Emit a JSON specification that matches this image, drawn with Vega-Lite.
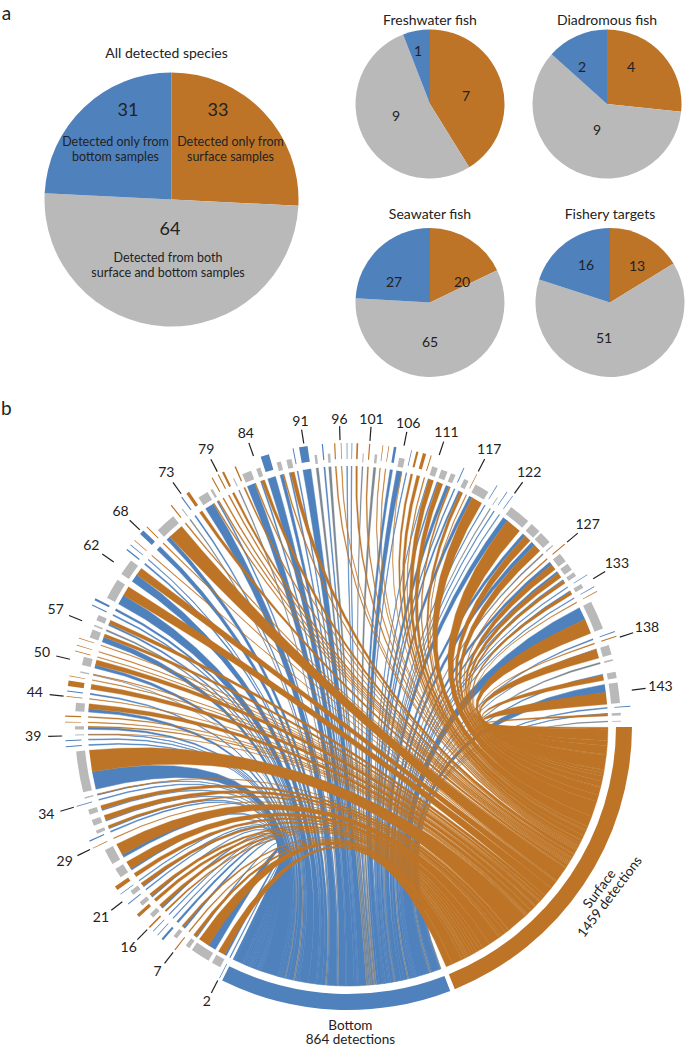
{"$schema":"https://vega.github.io/schema/vega-lite/v6.json","padding":0,"background":"white","config":{"view":{"stroke":null},"axis":{"disable":true},"font":"Lato","title":{"font":"Lato","fontSize":14,"fontWeight":"normal","color":"#222222"},"text":{"font":"Lato","color":"#222222","baseline":"middle","align":"center"}},
"datasets":{
"targets":[{"name":"Surface","label":"Surface\n1459 detections","n":1459,"a0":90.2,"a1":157.9},{"name":"Bottom","label":"Bottom\n864 detections","n":864,"a0":158.9,"a1":206.3}],
"labels":[{"sp":2,"a":207.1},{"sp":7,"a":217.7},{"sp":16,"a":224.6},{"sp":21,"a":232.1},{"sp":29,"a":244.4},{"sp":34,"a":253.5},{"sp":39,"a":268},{"sp":44,"a":276},{"sp":50,"a":283.5},{"sp":57,"a":291.6},{"sp":62,"a":305},{"sp":68,"a":313.3},{"sp":73,"a":324.3},{"sp":79,"a":332.8},{"sp":84,"a":340.7},{"sp":91,"a":351.1},{"sp":96,"a":358.4},{"sp":101,"a":4.4},{"sp":106,"a":11.3},{"sp":111,"a":18.6},{"sp":117,"a":27.1},{"sp":122,"a":35.6},{"sp":127,"a":50},{"sp":133,"a":59},{"sp":138,"a":71.9},{"sp":143,"a":82.8}],
"species":[{"sp":1,"a":207,"s":0,"b":3,"g":0},{"sp":2,"a":208.9,"s":32,"b":9,"g":0},{"sp":3,"a":212.8,"s":50,"b":36,"g":0},{"sp":4,"a":216,"s":14,"b":5,"g":0},{"sp":5,"a":217.7,"s":5,"b":0,"g":0},{"sp":6,"a":219.3,"s":9,"b":9,"g":0},{"sp":7,"a":221,"s":0,"b":9,"g":0},{"sp":8,"a":222.3,"s":0,"b":3,"g":0},{"sp":9,"a":223.5,"s":0,"b":3,"g":0},{"sp":10,"a":224.6,"s":7,"b":0,"g":0},{"sp":11,"a":226,"s":14,"b":7,"g":0},{"sp":12,"a":227.9,"s":14,"b":0,"g":0},{"sp":13,"a":229.3,"s":14,"b":5,"g":0},{"sp":14,"a":231,"s":0,"b":4,"g":0},{"sp":15,"a":232.3,"s":16,"b":5,"g":0},{"sp":16,"a":233.5,"s":0,"b":3,"g":0},{"sp":17,"a":235,"s":18,"b":0,"g":0},{"sp":18,"a":237.4,"s":36,"b":7,"g":0},{"sp":19,"a":241.3,"s":54,"b":14,"g":0},{"sp":20,"a":244.4,"s":3,"b":0,"g":0},{"sp":21,"a":246,"s":0,"b":5,"g":0},{"sp":22,"a":247.1,"s":11,"b":4,"g":0},{"sp":23,"a":249.2,"s":23,"b":4,"g":0},{"sp":24,"a":251.6,"s":18,"b":5,"g":0},{"sp":25,"a":253.5,"s":0,"b":4,"g":0},{"sp":26,"a":254.7,"s":3,"b":3,"g":0},{"sp":27,"a":260.3,"s":99,"b":81,"g":0},{"sp":28,"a":265.8,"s":0,"b":4,"g":0},{"sp":29,"a":267,"s":0,"b":4,"g":0},{"sp":30,"a":268.1,"s":2,"b":2,"g":0},{"sp":31,"a":269.6,"s":5,"b":9,"g":0},{"sp":32,"a":270.8,"s":3,"b":0,"g":0},{"sp":33,"a":272,"s":5,"b":0,"g":0},{"sp":34,"a":274,"s":23,"b":14,"g":0},{"sp":35,"a":276,"s":3,"b":0,"g":0},{"sp":36,"a":277.1,"s":0,"b":5,"g":0},{"sp":37,"a":278.7,"s":23,"b":0,"g":0},{"sp":38,"a":280.2,"s":3,"b":0,"g":0},{"sp":39,"a":281.4,"s":3,"b":0,"g":3},{"sp":40,"a":283.8,"s":23,"b":14,"g":0},{"sp":41,"a":285.4,"s":3,"b":0,"g":0},{"sp":42,"a":286.6,"s":3,"b":0,"g":0},{"sp":43,"a":288.1,"s":3,"b":0,"g":0},{"sp":44,"a":289.8,"s":14,"b":23,"g":0},{"sp":45,"a":291.6,"s":0,"b":0,"g":7},{"sp":46,"a":293.4,"s":18,"b":7,"g":0},{"sp":47,"a":295.3,"s":0,"b":5,"g":0},{"sp":48,"a":296.6,"s":0,"b":9,"g":0},{"sp":49,"a":300.2,"s":45,"b":45,"g":0},{"sp":50,"a":305.6,"s":36,"b":36,"g":0},{"sp":51,"a":308.6,"s":0,"b":6,"g":0},{"sp":52,"a":309.8,"s":0,"b":3,"g":0},{"sp":53,"a":311,"s":3,"b":0,"g":0},{"sp":54,"a":313.2,"s":0,"b":20,"g":0},{"sp":55,"a":314.7,"s":4,"b":0,"g":0},{"sp":56,"a":318,"s":72,"b":18,"g":0},{"sp":57,"a":321.3,"s":5,"b":0,"g":0},{"sp":58,"a":322.6,"s":0,"b":0,"g":5},{"sp":59,"a":324,"s":0,"b":5,"g":0},{"sp":60,"a":325.5,"s":14,"b":0,"g":0},{"sp":61,"a":327.9,"s":5,"b":41,"g":0},{"sp":62,"a":330,"s":5,"b":5,"g":0},{"sp":63,"a":331.3,"s":5,"b":0,"g":0},{"sp":64,"a":332.7,"s":5,"b":0,"g":0},{"sp":65,"a":333.8,"s":9,"b":0,"g":0},{"sp":66,"a":335.2,"s":0,"b":0,"g":5},{"sp":67,"a":336.5,"s":6,"b":0,"g":0},{"sp":68,"a":338.2,"s":5,"b":36,"g":0},{"sp":69,"a":340.8,"s":14,"b":5,"g":0},{"sp":70,"a":342.9,"s":0,"b":36,"g":0},{"sp":71,"a":345.3,"s":5,"b":14,"g":0},{"sp":72,"a":347.5,"s":18,"b":5,"g":0},{"sp":73,"a":348.8,"s":0,"b":4,"g":0},{"sp":74,"a":350.9,"s":0,"b":36,"g":0},{"sp":75,"a":353.2,"s":0,"b":0,"g":11},{"sp":76,"a":354.8,"s":0,"b":5,"g":0},{"sp":77,"a":356,"s":0,"b":0,"g":11},{"sp":78,"a":357.3,"s":5,"b":0,"g":0},{"sp":79,"a":358.6,"s":3,"b":0,"g":0},{"sp":80,"a":359.8,"s":0,"b":3,"g":0},{"sp":81,"a":360.8,"s":0,"b":3,"g":0},{"sp":82,"a":361.9,"s":7,"b":0,"g":0},{"sp":83,"a":363.2,"s":0,"b":0,"g":5},{"sp":84,"a":364.4,"s":5,"b":0,"g":0},{"sp":85,"a":365.9,"s":0,"b":0,"g":11},{"sp":86,"a":367.1,"s":3,"b":0,"g":0},{"sp":87,"a":368.3,"s":3,"b":0,"g":0},{"sp":88,"a":369.6,"s":0,"b":11,"g":0},{"sp":89,"a":371.4,"s":2,"b":23,"g":0},{"sp":90,"a":373,"s":0,"b":3,"g":0},{"sp":91,"a":374.2,"s":9,"b":0,"g":0},{"sp":92,"a":375.7,"s":14,"b":0,"g":0},{"sp":93,"a":377.1,"s":4,"b":0,"g":0},{"sp":94,"a":378.6,"s":23,"b":2,"g":0},{"sp":95,"a":380.7,"s":23,"b":5,"g":0},{"sp":96,"a":382.7,"s":7,"b":14,"g":0},{"sp":97,"a":384.2,"s":0,"b":4,"g":0},{"sp":98,"a":385.7,"s":14,"b":7,"g":0},{"sp":99,"a":387.1,"s":3,"b":0,"g":0},{"sp":100,"a":389.4,"s":50,"b":14,"g":0},{"sp":101,"a":391.8,"s":0,"b":3,"g":0},{"sp":102,"a":393.2,"s":0,"b":0,"g":4},{"sp":103,"a":394.2,"s":0,"b":3,"g":0},{"sp":104,"a":395.6,"s":0,"b":3,"g":0},{"sp":105,"a":399,"s":72,"b":23,"g":0},{"sp":106,"a":403.4,"s":32,"b":14,"g":0},{"sp":107,"a":406.3,"s":36,"b":18,"g":0},{"sp":108,"a":408.6,"s":0,"b":0,"g":6},{"sp":109,"a":410,"s":5,"b":0,"g":0},{"sp":110,"a":411.9,"s":27,"b":14,"g":0},{"sp":111,"a":414.3,"s":23,"b":9,"g":0},{"sp":112,"a":416.2,"s":14,"b":5,"g":0},{"sp":113,"a":417.7,"s":0,"b":3,"g":0},{"sp":114,"a":419.1,"s":14,"b":5,"g":0},{"sp":115,"a":420.5,"s":0,"b":3,"g":0},{"sp":116,"a":421.6,"s":3,"b":0,"g":0},{"sp":117,"a":426,"s":68,"b":59,"g":0},{"sp":118,"a":430.5,"s":0,"b":4,"g":0},{"sp":119,"a":431.5,"s":4,"b":0,"g":0},{"sp":120,"a":433.8,"s":41,"b":2,"g":0},{"sp":121,"a":436,"s":0,"b":0,"g":7},{"sp":122,"a":439.2,"s":23,"b":5,"g":0},{"sp":123,"a":443,"s":54,"b":36,"g":0},{"sp":124,"a":446,"s":0,"b":4,"g":0},{"sp":125,"a":447.5,"s":9,"b":3,"g":0},{"sp":126,"a":449,"s":0,"b":0,"g":4}]
},
"vconcat":[
{"hconcat":[
{"width":343,"height":399,"data":{"values":[{"k":"s","o":1,"v":33,"d":"Detected only from\nsurface samples"},{"k":"both","o":2,"v":64,"d":"Detected from both\nsurface and bottom samples"},{"k":"b","o":3,"v":31,"d":"Detected only from\nbottom samples"}]},"title":{"text":"All detected species","offset":-61,"dx":-5},"layer":[
{"mark":{"type":"arc","radius":127},"encoding":{"theta":{"field":"v","type":"quantitative","stack":true},"order":{"field":"o"},"color":{"field":"k","type":"nominal","scale":{"domain":["s","both","b"],"range":["#BD7427","#B9B9B9","#4F81BD"]},"legend":null}}},
{"transform":[{"filter":"datum.k=='s'"}],"mark":{"type":"text","dx":46.5,"dy":-89,"fontSize":18},"encoding":{"text":{"field":"v"}}},
{"transform":[{"filter":"datum.k=='b'"}],"mark":{"type":"text","dx":-43.5,"dy":-89,"fontSize":18},"encoding":{"text":{"field":"v"}}},
{"transform":[{"filter":"datum.k=='both'"}],"mark":{"type":"text","dx":-1.5,"dy":30.5,"fontSize":18},"encoding":{"text":{"field":"v"}}},
{"transform":[{"filter":"datum.k=='s'"}],"mark":{"type":"text","dx":59,"dy":-58,"fontSize":12.5,"lineBreak":"\n","lineHeight":15.5},"encoding":{"text":{"field":"d"}}},
{"transform":[{"filter":"datum.k=='b'"}],"mark":{"type":"text","dx":-56,"dy":-58,"fontSize":12.5,"lineBreak":"\n","lineHeight":15.5},"encoding":{"text":{"field":"d"}}},
{"transform":[{"filter":"datum.k=='both'"}],"mark":{"type":"text","dx":-3.5,"dy":58,"fontSize":12.5,"lineBreak":"\n","lineHeight":15.5},"encoding":{"text":{"field":"d"}}},
{"data":{"values":[{"panel":"a"}]},"mark":{"type":"text","dx":-165,"dy":-186,"fontSize":19},"encoding":{"text":{"field":"panel"}}}
]},
{"vconcat":[
{"hconcat":[
{"width":150,"height":208,"data":{"values":[{"k":"s","o":1,"v":7},{"k":"both","o":2,"v":9},{"k":"b","o":3,"v":1}]},"title":{"text":"Freshwater fish","offset":-28},"layer":[
{"mark":{"type":"arc","radius":74.5},"encoding":{"theta":{"field":"v","type":"quantitative","stack":true},"order":{"field":"o"},"color":{"field":"k","type":"nominal","scale":{"domain":["s","both","b"],"range":["#BD7427","#B9B9B9","#4F81BD"]},"legend":null}}},
{"transform":[{"filter":"datum.k=='s'"}],"mark":{"type":"text","dx":36,"dy":-7,"fontSize":14},"encoding":{"text":{"field":"v"}}},
{"transform":[{"filter":"datum.k=='both'"}],"mark":{"type":"text","dx":-34,"dy":13,"fontSize":14},"encoding":{"text":{"field":"v"}}},
{"transform":[{"filter":"datum.k=='b'"}],"mark":{"type":"text","dx":-12,"dy":-52,"fontSize":14},"encoding":{"text":{"field":"v"}}}
]},
{"width":150,"height":208,"data":{"values":[{"k":"s","o":1,"v":4},{"k":"both","o":2,"v":9},{"k":"b","o":3,"v":2}]},"title":{"text":"Diadromous fish","offset":-28},"layer":[
{"mark":{"type":"arc","radius":74.5},"encoding":{"theta":{"field":"v","type":"quantitative","stack":true},"order":{"field":"o"},"color":{"field":"k","type":"nominal","scale":{"domain":["s","both","b"],"range":["#BD7427","#B9B9B9","#4F81BD"]},"legend":null}}},
{"transform":[{"filter":"datum.k=='s'"}],"mark":{"type":"text","dx":24,"dy":-36,"fontSize":14},"encoding":{"text":{"field":"v"}}},
{"transform":[{"filter":"datum.k=='both'"}],"mark":{"type":"text","dx":-10,"dy":27,"fontSize":14},"encoding":{"text":{"field":"v"}}},
{"transform":[{"filter":"datum.k=='b'"}],"mark":{"type":"text","dx":-25,"dy":-36,"fontSize":14},"encoding":{"text":{"field":"v"}}}
]}
],"spacing":27,"bounds":"flush"},
{"hconcat":[
{"width":150,"height":185,"data":{"values":[{"k":"s","o":1,"v":20},{"k":"both","o":2,"v":65},{"k":"b","o":3,"v":27}]},"title":{"text":"Seawater fish","offset":-12},"layer":[
{"mark":{"type":"arc","radius":74.5},"encoding":{"theta":{"field":"v","type":"quantitative","stack":true},"order":{"field":"o"},"color":{"field":"k","type":"nominal","scale":{"domain":["s","both","b"],"range":["#BD7427","#B9B9B9","#4F81BD"]},"legend":null}}},
{"transform":[{"filter":"datum.k=='s'"}],"mark":{"type":"text","dx":32,"dy":-20,"fontSize":14},"encoding":{"text":{"field":"v"}}},
{"transform":[{"filter":"datum.k=='both'"}],"mark":{"type":"text","dx":0,"dy":40,"fontSize":14},"encoding":{"text":{"field":"v"}}},
{"transform":[{"filter":"datum.k=='b'"}],"mark":{"type":"text","dx":-36,"dy":-20,"fontSize":14},"encoding":{"text":{"field":"v"}}}
]},
{"width":150,"height":185,"data":{"values":[{"k":"s","o":1,"v":13},{"k":"both","o":2,"v":51},{"k":"b","o":3,"v":16}]},"title":{"text":"Fishery targets","offset":-12},"layer":[
{"mark":{"type":"arc","radius":74.5},"encoding":{"theta":{"field":"v","type":"quantitative","stack":true},"order":{"field":"o"},"color":{"field":"k","type":"nominal","scale":{"domain":["s","both","b"],"range":["#BD7427","#B9B9B9","#4F81BD"]},"legend":null}}},
{"transform":[{"filter":"datum.k=='s'"}],"mark":{"type":"text","dx":27,"dy":-36,"fontSize":14},"encoding":{"text":{"field":"v"}}},
{"transform":[{"filter":"datum.k=='both'"}],"mark":{"type":"text","dx":-6,"dy":36,"fontSize":14},"encoding":{"text":{"field":"v"}}},
{"transform":[{"filter":"datum.k=='b'"}],"mark":{"type":"text","dx":-24,"dy":-37,"fontSize":14},"encoding":{"text":{"field":"v"}}}
]}
],"spacing":30,"bounds":"flush"}
],"spacing":0}
],"spacing":12},
{"width":685,"height":647,"title":{"text":"b","anchor":"start","fontSize":19,"offset":-20,"dx":1},
"layer":[
{"data":{"name":"species"},"transform":[
{"calculate":"(datum.s+datum.b+datum.g)*0.0485","as":"w"},
{"calculate":"datum.a-datum.w/2","as":"a0"},
{"fold":["b","g","s"],"as":["kind","n"]},
{"filter":"datum.n>0"},
{"calculate":"datum.kind=='s'?'Surface':'Bottom'","as":"tgt"},
{"calculate":"datum.kind=='b'?datum.a0:(datum.kind=='g'?datum.a0+datum.b*0.0485:datum.a0+(datum.b+datum.g)*0.0485)","as":"l0"},
{"calculate":"datum.l0+datum.n*0.0485","as":"l1"},
{"window":[{"op":"sum","field":"n","as":"c1"}],"groupby":["tgt"],"sort":[{"field":"sp","order":"descending"}]},
{"joinaggregate":[{"op":"sum","field":"n","as":"tot"}],"groupby":["tgt"]},
{"calculate":"datum.tgt=='Surface'?90.3:159","as":"T0"},
{"calculate":"datum.tgt=='Surface'?67.5:47.2","as":"TS"},
{"calculate":"datum.T0+(datum.c1-datum.n)/datum.tot*datum.TS","as":"t0"},
{"calculate":"datum.T0+datum.c1/datum.tot*datum.TS","as":"t1"},
{"calculate":"datum.sp+datum.kind","as":"id"},
{"calculate":"[0,1,2,3,4,5,6,7,8,9,10,11,12,13,14,15,16,17,18,19,20,21,22,23,24,25,26,27,28,29,30,31,32,33]","as":"p"},
{"flatten":["p"]},
{"calculate":"datum.p<=16?datum.p/16:(datum.p-17)/16","as":"u"},
{"calculate":"(datum.p<=16?datum.l0:datum.t0)*PI/180","as":"A"},
{"calculate":"(datum.p<=16?datum.t1:datum.l1)*PI/180","as":"B"},
{"calculate":"pow(1-datum.u,3)*260+3*pow(1-datum.u,2)*datum.u*93","as":"k0"},
{"calculate":"pow(datum.u,3)*260+3*(1-datum.u)*datum.u*datum.u*93","as":"k1"},
{"calculate":"datum.k0*sin(datum.A)+datum.k1*sin(datum.B)","as":"x"},
{"calculate":"datum.k0*cos(datum.A)+datum.k1*cos(datum.B)","as":"y"}
],
"encoding":{"x":{"field":"x","type":"quantitative","scale":{"domain":[-348,337],"nice":false,"zero":false}},"y":{"field":"y","type":"quantitative","scale":{"domain":[-320,327],"nice":false,"zero":false}},"detail":{"field":"id"},"order":{"field":"p"}},
"layer":[
{"transform":[{"filter":"datum.kind=='b'"}],"mark":{"type":"line","fill":"#4F81BD","stroke":"#4F81BD","strokeWidth":0.5}},
{"transform":[{"filter":"datum.kind=='g'"}],"mark":{"type":"line","fill":"#7F8890","stroke":"#7F8890","strokeWidth":0.25}},
{"transform":[{"filter":"datum.kind=='s'"}],"mark":{"type":"line","fill":"#BD7427","stroke":"#BD7427","strokeWidth":0.35}}
]},
{"data":{"name":"species"},"transform":[
{"calculate":"(datum.s+datum.b+datum.g)*0.0485","as":"w"},
{"calculate":"(datum.a-datum.w/2)*PI/180","as":"r0"},
{"calculate":"(datum.a+datum.w/2)*PI/180","as":"r1"},
{"calculate":"datum.g>0||(datum.s>0&&datum.b>0)?'Both':(datum.s>0?'Surface':'Bottom')","as":"track"}
],
"encoding":{"x":{"datum":0,"scale":{"domain":[-348,337],"nice":false,"zero":false}},"y":{"datum":0,"scale":{"domain":[-320,327],"nice":false,"zero":false}},"theta":{"field":"r0","type":"quantitative","scale":null},"theta2":{"field":"r1"}},
"layer":[
{"transform":[{"filter":"datum.track=='Both'"}],"mark":{"type":"arc","radius":273,"radius2":264,"fill":"#B9B9B9"}},
{"transform":[{"filter":"datum.track=='Surface'"}],"mark":{"type":"arc","radius":283,"radius2":267,"fill":"#BD7427"}},
{"transform":[{"filter":"datum.track=='Bottom'"}],"mark":{"type":"arc","radius":283,"radius2":267,"fill":"#4F81BD"}}
]},
{"data":{"name":"targets"},"transform":[
{"calculate":"datum.a0*PI/180","as":"r0"},
{"calculate":"datum.a1*PI/180","as":"r1"}
],
"encoding":{"x":{"datum":0,"scale":{"domain":[-348,337],"nice":false,"zero":false}},"y":{"datum":0,"scale":{"domain":[-320,327],"nice":false,"zero":false}},"theta":{"field":"r0","type":"quantitative","scale":null},"theta2":{"field":"r1"}},
"layer":[
{"transform":[{"filter":"datum.name=='Surface'"}],"mark":{"type":"arc","radius":284,"radius2":268,"fill":"#BD7427"}},
{"transform":[{"filter":"datum.name=='Bottom'"}],"mark":{"type":"arc","radius":284,"radius2":268,"fill":"#4F81BD"}}
]},
{"data":{"name":"labels"},"transform":[
{"calculate":"datum.a*PI/180","as":"r"},
{"calculate":"286*sin(datum.r)","as":"x1"},
{"calculate":"286*cos(datum.r)","as":"y1"},
{"calculate":"300*sin(datum.r)","as":"x2"},
{"calculate":"300*cos(datum.r)","as":"y2"}
],
"mark":{"type":"rule","color":"#222222","strokeWidth":1.2},
"encoding":{"x":{"field":"x1","type":"quantitative","scale":{"domain":[-348,337],"nice":false,"zero":false}},"y":{"field":"y1","type":"quantitative","scale":{"domain":[-320,327],"nice":false,"zero":false}},"x2":{"field":"x2"},"y2":{"field":"y2"}}},
{"data":{"name":"labels"},"transform":[
{"calculate":"datum.a*PI/180","as":"r"},
{"calculate":"(306+9*abs(sin(datum.r)))*sin(datum.r)","as":"x"},
{"calculate":"(306+9*abs(sin(datum.r)))*cos(datum.r)","as":"y"}
],
"mark":{"type":"text","fontSize":14},
"encoding":{"x":{"field":"x","type":"quantitative","scale":{"domain":[-348,337],"nice":false,"zero":false}},"y":{"field":"y","type":"quantitative","scale":{"domain":[-320,327],"nice":false,"zero":false}},"text":{"field":"sp"}}},
{"data":{"name":"targets"},"transform":[
{"filter":"datum.name=='Surface'"},
{"calculate":"((datum.a0+datum.a1)/2-1.1)*PI/180","as":"r"},
{"calculate":"300*sin(datum.r)","as":"x"},
{"calculate":"300*cos(datum.r)","as":"y"}
],
"mark":{"type":"text","fontSize":13.5,"angle":307,"lineBreak":"\n","lineHeight":13},
"encoding":{"x":{"field":"x","type":"quantitative","scale":{"domain":[-348,337],"nice":false,"zero":false}},"y":{"field":"y","type":"quantitative","scale":{"domain":[-320,327],"nice":false,"zero":false}},"text":{"field":"label"}}},
{"data":{"name":"targets"},"transform":[
{"filter":"datum.name=='Bottom'"},
{"calculate":"(datum.a0+datum.a1)/2*PI/180","as":"r"},
{"calculate":"300*sin(datum.r)","as":"x"},
{"calculate":"300*cos(datum.r)","as":"y"}
],
"mark":{"type":"text","fontSize":13.5,"lineBreak":"\n","lineHeight":14.5,"dx":16},
"encoding":{"x":{"field":"x","type":"quantitative","scale":{"domain":[-348,337],"nice":false,"zero":false}},"y":{"field":"y","type":"quantitative","scale":{"domain":[-320,327],"nice":false,"zero":false}},"text":{"field":"label"}}}
]}
],"spacing":0}
